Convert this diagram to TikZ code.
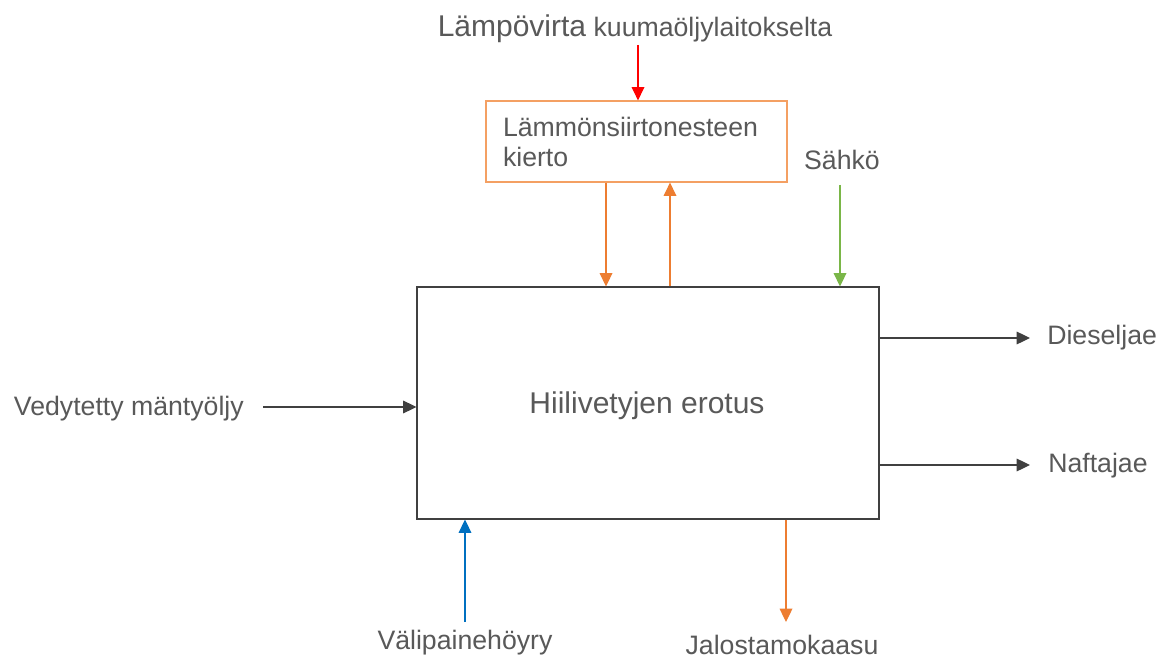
\documentclass[tikz,border=0pt]{standalone}
\usepackage{fontspec}
\setmainfont{Liberation Sans}
\usepackage{tikz}
\usetikzlibrary{arrows.meta,positioning}

\definecolor{txtgray}{HTML}{595959}
\definecolor{linegray}{HTML}{404040}
\definecolor{boxorange}{HTML}{F4A063}
\definecolor{flowred}{HTML}{FF0000}
\definecolor{floworange}{HTML}{ED7D31}
\definecolor{flowgreen}{HTML}{7AB648}
\definecolor{flowblue}{HTML}{0070C0}

\tikzset{
  lbl/.style={text=txtgray,inner sep=0pt,font=\fontsize{20}{24}\selectfont},
  flow/.style={-{Triangle[length=10pt,width=9.5pt]},line width=0.9pt},
}

\begin{document}
\begin{tikzpicture}[x=0.75pt,y=-0.75pt]
  \useasboundingbox[fill=white] (0,0) rectangle (1159,659);
  % boxes
  \node[draw=linegray,line width=0.8pt,minimum width=462*0.75pt,minimum height=232*0.75pt,
    inner sep=0pt] (erotus) at (648,403) {};
  \node[text=txtgray,inner sep=0pt,font=\fontsize{22.5}{27}\selectfont] (erotus-txt) at (647,406) {Hiilivetyjen erotus};
  \node[draw=boxorange,line width=0.9pt,minimum width=301*0.75pt,minimum height=81*0.75pt,
    inner sep=0pt,text width=267*0.75pt,align=left,text=txtgray,
    font=\fontsize{20}{22.5}\selectfont] (kierto) at (636.5,141.5) {Lämmönsiirtonesteen\\kierto};
  % labels
  \node[lbl] (heat) at (635,29) {{\fontsize{22.5}{27}\selectfont Lämpövirta} kuumaöljylaitokselta};
  \node[lbl] (sahko) at (842,160) {Sähkö};
  \node[lbl,anchor=west] (diesel) at (1047,338) {Dieseljae};
  \node[lbl,anchor=west] (nafta) at (1048,466) {Naftajae};
  \node[lbl,anchor=east] (vedy) at (244,409) {Vedytetty mäntyöljy};
  \node[lbl] (hoyry) at (465,643) {Välipainehöyry};
  \node[lbl] (kaasu) at (782,645) {Jalostamokaasu};
  % free ends
  \coordinate (heat-s) at (638,45);
  \coordinate (sahko-s) at (840,185);
  \coordinate (diesel-e) at (1030,338);
  \coordinate (nafta-e) at (1030,465);
  \coordinate (vedy-s) at (263,407);
  \coordinate (hoyry-s) at (465,622);
  \coordinate (kaasu-e) at (786,622);
  % flows
  \draw[flow,flowred] (heat-s) -- (heat-s |- kierto.north);
  \draw[flow,floworange] (kierto.south -| 606,0) -- (erotus.north -| 606,0);
  \draw[flow,floworange] (erotus.north -| 670,0) -- (kierto.south -| 670,0);
  \draw[flow,flowgreen] (sahko-s) -- (sahko-s |- erotus.north);
  \draw[flow,linegray] (erotus.east |- diesel-e) -- (diesel-e);
  \draw[flow,linegray] (erotus.east |- nafta-e) -- (nafta-e);
  \draw[flow,linegray] (vedy-s) -- (vedy-s -| erotus.west);
  \draw[flow,flowblue] (hoyry-s) -- (hoyry-s |- erotus.south);
  \draw[flow,floworange] (kaasu-e |- erotus.south) -- (kaasu-e);
\end{tikzpicture}
\end{document}
